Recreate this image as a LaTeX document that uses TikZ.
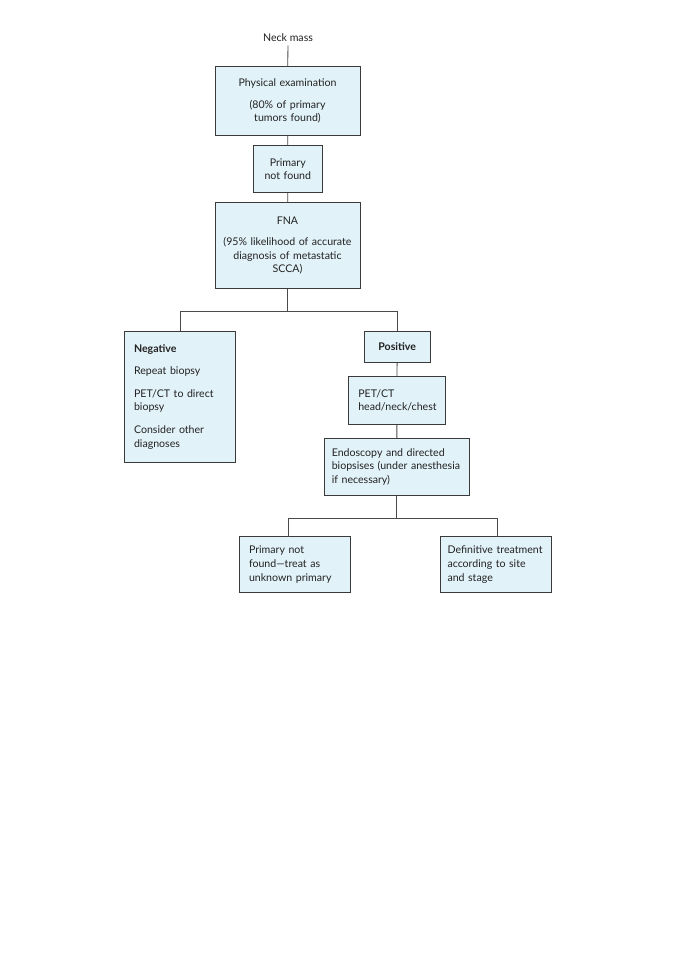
\documentclass[tikz,border=0pt]{standalone}
\usepackage{fontspec}
\setmainfont{Lato}
\definecolor{boxfill}{HTML}{E2F2F9}
\definecolor{boxline}{HTML}{3A3A3A}
\definecolor{conn}{HTML}{4A4A4A}
\definecolor{txt}{HTML}{222222}
\tikzset{
  box/.style={draw=boxline, fill=boxfill, line width=0.9pt, inner xsep=4pt, inner ysep=3pt,
    text=txt, font=\fontsize{10.6}{13.6}\selectfont},
  link/.style={draw=conn, line width=0.8pt}
}
\begin{document}
\begin{tikzpicture}[x=1pt,y=-1pt]
\useasboundingbox[fill=white] (0,0) rectangle (678,960);
\node[text=txt, font=\fontsize{10.6}{13.6}\selectfont] (neck) at (288,38) {Neck mass};
\node[box, align=center, minimum width=145pt, minimum height=69pt, text width=137pt] (phys) at (287.5,101.2)
  {Physical examination\\[8pt](80\% of primary\\tumors found)};
\node[box, align=center, minimum width=68.5pt, minimum height=47pt, text width=60pt] (pnf) at (287.8,169.2)
  {Primary\\not found};
\node[box, align=center, minimum width=145pt, minimum height=85.6pt, text width=137pt] (fna) at (287.5,245.5)
  {FNA\\[8pt](95\% likelihood of accurate\\diagnosis of metastatic\\SCCA)};
\node[box, align=left, inner xsep=10pt, minimum width=111.7pt, minimum height=131.3pt, text width=91.7pt] (neg) at (179.9,396.7)
  {\textbf{Negative}\\[9pt]Repeat biopsy\\[9pt]PET/CT to direct\\biopsy\\[9pt]Consider other\\diagnoses};
\node[box, align=center, minimum width=65.7pt, minimum height=31.7pt, text width=57pt] (pos) at (397.2,346.8)
  {\textbf{Positive}};
\node[box, align=left, inner xsep=9.5pt, minimum width=96.3pt, minimum height=47.3pt, text width=77.3pt] (pet) at (396.9,400.3)
  {PET/CT\\head/neck/chest};
\node[box, align=left, inner xsep=7.5pt, minimum width=145pt, minimum height=57.4pt, text width=130pt] (endo) at (396.8,467)
  {Endoscopy and directed\\biopsises (under anesthesia\\if necessary)};
\node[box, align=left, inner xsep=10pt, minimum width=111pt, minimum height=55.6pt, text width=91pt] (unk) at (294.5,564.5)
  {Primary not\\found---treat as\\unknown primary};
\node[box, align=left, inner xsep=7.5pt, minimum width=111pt, minimum height=55.6pt, text width=96pt] (def) at (495.5,564.5)
  {Definitive treatment\\according to site\\and stage};
\coordinate (j1) at (287.5,311.7);
\coordinate (j2) at (396.8,518.3);
\coordinate (u1) at (288.3,536.7);
\coordinate (d1) at (497.7,536.7);
\draw[link] (neck) -- (phys);
\draw[link] (phys) -- (pnf);
\draw[link] (pnf) -- (fna);
\draw[link] (fna.south) -- (j1);
\draw[link] (j1) -| (neg.north);
\draw[link] (j1) -| (pos.north);
\draw[link] (pos) -- (pet);
\draw[link] (pet) -- (endo);
\draw[link] (endo.south) -- (j2);
\draw[link] (j2) -| (u1);
\draw[link] (j2) -| (d1);
\end{tikzpicture}
\end{document}
